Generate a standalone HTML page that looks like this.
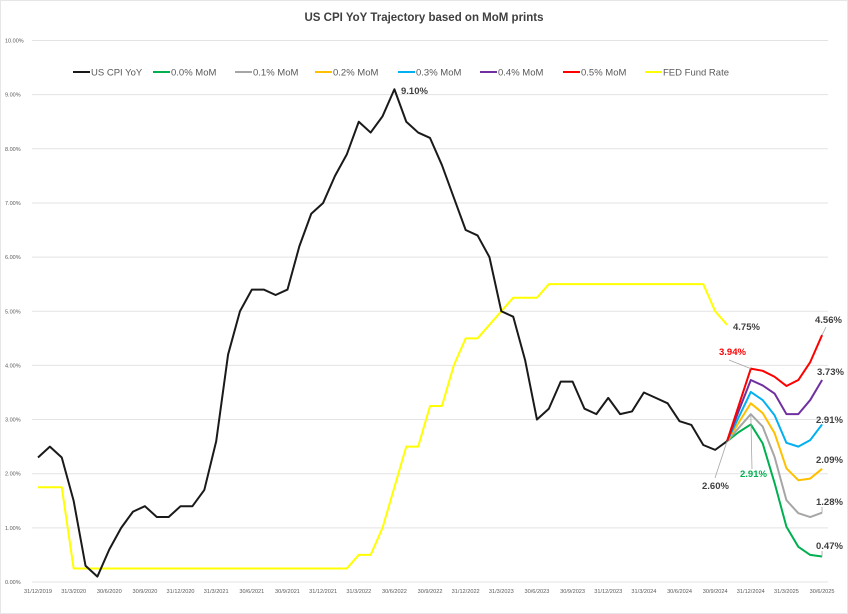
<!DOCTYPE html>
<html><head><meta charset="utf-8"><style>
body{margin:0;background:#fff}
svg{display:block;font-family:"Liberation Sans",sans-serif}
</style></head><body>
<svg id="chart" width="848" height="614" viewBox="0 0 848 614">
<rect x="0.5" y="0.5" width="847" height="613" fill="#fff" stroke="#e6e6e6"/>
<text x="424" y="21" text-anchor="middle" font-size="11.5" font-weight="bold" fill="#404040">US CPI YoY Trajectory based on MoM prints</text>
<g id="grid"></g><g id="xlabels"></g><g id="series"></g><g id="legend"></g><g id="annot"></g>
</svg>
<script>
const xLabels=["31/12/2019","31/3/2020","30/6/2020","30/9/2020","31/12/2020","31/3/2021","30/6/2021","30/9/2021","31/12/2021","31/3/2022","30/6/2022","30/9/2022","31/12/2022","31/3/2023","30/6/2023","30/9/2023","31/12/2023","31/3/2024","30/6/2024","30/9/2024","31/12/2024","31/3/2025","30/6/2025"];
const yTicks=[0,1,2,3,4,5,6,7,8,9,10];
const cpi=[2.3,2.5,2.3,1.5,0.3,0.1,0.6,1.0,1.3,1.4,1.2,1.2,1.4,1.4,1.7,2.6,4.2,5.0,5.4,5.4,5.3,5.4,6.2,6.8,7.0,7.5,7.9,8.5,8.3,8.6,9.1,8.5,8.3,8.2,7.7,7.1,6.5,6.4,6.0,5.0,4.9,4.1,3.0,3.2,3.7,3.7,3.2,3.1,3.4,3.1,3.15,3.5,3.4,3.3,2.97,2.9,2.53,2.44,2.6];
const fed=[1.75,1.75,1.75,0.25,0.25,0.25,0.25,0.25,0.25,0.25,0.25,0.25,0.25,0.25,0.25,0.25,0.25,0.25,0.25,0.25,0.25,0.25,0.25,0.25,0.25,0.25,0.25,0.5,0.5,1.0,1.75,2.5,2.5,3.25,3.25,4.0,4.5,4.5,4.75,5.0,5.25,5.25,5.25,5.5,5.5,5.5,5.5,5.5,5.5,5.5,5.5,5.5,5.5,5.5,5.5,5.5,5.5,5.0,4.75];
const mom00=[2.6,2.77,2.91,2.56,1.83,1.02,0.65,0.50,0.47];
const mom01=[2.6,2.85,3.10,2.87,2.31,1.51,1.27,1.20,1.28];
const mom02=[2.6,2.95,3.30,3.12,2.75,2.10,1.88,1.91,2.09];
const mom03=[2.6,3.05,3.51,3.36,3.08,2.57,2.50,2.62,2.91];
const mom04=[2.6,3.17,3.73,3.63,3.48,3.10,3.10,3.36,3.73];
const mom05=[2.6,3.27,3.94,3.90,3.79,3.62,3.73,4.06,4.56];
const forecastStart=58;
const NS="http://www.w3.org/2000/svg";
const X=i=>38+i*11.88;
const Y=v=>582-v*54.15;
function mk(tag,attrs,parent){const e=document.createElementNS(NS,tag);for(const k in attrs)e.setAttribute(k,attrs[k]);parent.appendChild(e);return e;}
const grid=document.getElementById('grid');
yTicks.forEach(t=>{
  const l=mk('line',{x1:32,x2:828,y1:Y(t),y2:Y(t),stroke:'#e3e3e3','stroke-width':1},grid);
  
  
  const tx=mk('text',{x:5,y:Y(t)+2,'font-size':5.5,fill:'#595959'},grid);
  tx.textContent=t.toFixed(2)+'%';
  
  
});
const xl=document.getElementById('xlabels');
xLabels.forEach((s,i)=>{
  const tx=mk('text',{x:X(i*3),y:593,'font-size':5.6,fill:'#595959','text-anchor':'middle'},xl);
  tx.textContent=s;
  
  
});
const ser=document.getElementById('series');
function line(arr,start,color,name){
  const p=mk('polyline',{points:arr.map((v,i)=>X(start+i)+','+Y(v)).join(' '),fill:'none',stroke:color,'stroke-width':2,'stroke-linejoin':'round'},ser);
  
  
}
line(fed,0,'#ffff00','fed-fund-rate-line');
line(mom00,forecastStart,'#00b050','mom-0.0-line');
line(mom01,forecastStart,'#a6a6a6','mom-0.1-line');
line(mom02,forecastStart,'#ffc000','mom-0.2-line');
line(mom03,forecastStart,'#00b0f0','mom-0.3-line');
line(mom04,forecastStart,'#7030a0','mom-0.4-line');
line(mom05,forecastStart,'#ff0000','mom-0.5-line');
line(cpi,0,'#1a1a1a','us-cpi-yoy-line');
const leg=document.getElementById('legend');
[["US CPI YoY","#1a1a1a",73],["0.0% MoM","#00b050",153],["0.1% MoM","#a6a6a6",235],["0.2% MoM","#ffc000",315],["0.3% MoM","#00b0f0",398],["0.4% MoM","#7030a0",480],["0.5% MoM","#ff0000",563],["FED Fund Rate","#ffff00",645]].forEach(d=>{
  const g=mk('g',{},leg);
  
  
  mk('line',{x1:d[2],x2:d[2]+17,y1:72,y2:72,stroke:d[1],'stroke-width':2},g);
  const t=mk('text',{x:d[2]+18,y:75.5,'font-size':9.5,fill:'#595959'},g);
  t.textContent=d[0];
});
const an=document.getElementById('annot');
function label(txt,x,y,color,lx1,ly1,lx2,ly2){
  if(lx1!==undefined){const l=mk('line',{x1:lx1,y1:ly1,x2:lx2,y2:ly2,stroke:'#a6a6a6','stroke-width':0.8},an);
    
    }
  const t=mk('text',{x:x,y:y,'font-size':9.5,'font-weight':'bold',fill:color},an);
  t.textContent=txt;
  
  
}
label('9.10%',401,94,'#404040');
label('4.75%',733,330,'#404040');
label('3.94%',719,355,'#ff0000',729,360,X(60),Y(mom05[2]));
label('4.56%',815,323,'#404040',826,327,X(66),Y(mom05[8]));
label('3.73%',817,375,'#404040');
label('2.91%',816,423,'#404040');
label('2.09%',816,463,'#404040');
label('1.28%',816,505,'#404040',822,507,X(66),Y(mom01[8]));
label('0.47%',816,549,'#404040',822,551,X(66),Y(mom00[8]));
label('2.60%',702,489,'#404040',715,478,X(58),Y(2.6));
label('2.91%',740,477,'#00b050',752,469,X(60),Y(mom01[2]));
</script>
</body></html>
